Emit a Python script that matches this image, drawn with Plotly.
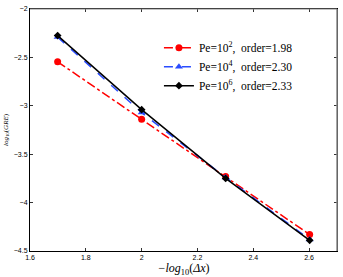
import plotly.graph_objects as go

x_vals = [1.699, 2.0, 2.301, 2.602]
pe2 = [-2.545, -3.14, -3.73, -4.33]
pe4 = [-2.29, -3.07, -3.74, -4.38]
pe6 = [-2.275, -3.04, -3.75, -4.39]
names = ["Pe=10<sup>2</sup>,  order=1.98", "Pe=10<sup>4</sup>,  order=2.30", "Pe=10<sup>6</sup>,  order=2.33"]
x_ticks = [1.6, 1.8, 2.0, 2.2, 2.4, 2.6]
x_labels = ["1.6", "1.8", "2", "2.2", "2.4", "2.6"]
y_ticks = [-2, -2.5, -3, -3.5, -4, -4.5]
y_labels = ["\u22122", "\u22122.5", "\u22123", "\u22123.5", "\u22124", "\u22124.5"]

fig = go.Figure()
fig.add_trace(go.Scatter(x=x_vals, y=pe2, name=names[0], mode="lines+markers",
                         line=dict(color="#ff0000", width=1.5, dash="dashdot"),
                         marker=dict(symbol="circle", size=7, color="#ff0000")))
fig.add_trace(go.Scatter(x=x_vals, y=pe4, name=names[1], mode="lines+markers",
                         line=dict(color="#2a4cff", width=1.5, dash="dash"),
                         marker=dict(symbol="triangle-up", size=7, color="#2a4cff")))
fig.add_trace(go.Scatter(x=x_vals, y=pe6, name=names[2], mode="lines+markers",
                         line=dict(color="#000000", width=1.5),
                         marker=dict(symbol="diamond", size=6, color="#000000")))

axis_common = dict(showgrid=False, zeroline=False, ticks="inside", ticklen=3,
                   tickcolor="#333", showline=True, linecolor="#000", linewidth=1,
                   mirror="allticks", tickfont=dict(family="Liberation Sans, Arial", size=7, color="#000"))
fig.update_xaxes(range=[1.6, 2.7], tickvals=x_ticks, ticktext=x_labels,
                 title=dict(text="<i>\u2212log</i><sub>10</sub>(<i>\u0394x</i>)", standoff=2,
                            font=dict(family="Liberation Serif, Times New Roman", size=12, color="#000")),
                 **axis_common)
fig.update_yaxes(range=[-4.5, -2], tickvals=y_ticks, ticktext=y_labels,
                 title=dict(text="<i>log</i><sub>10</sub>(<i>GRE</i>)", standoff=4,
                            font=dict(family="Liberation Serif, Times New Roman", size=7, color="#000")),
                 **axis_common)

fig.add_shape(type="line", xref="paper", yref="paper", x0=0, x1=1, y0=1, y1=1,
              line=dict(color="#888", width=1))
fig.add_shape(type="line", xref="paper", yref="paper", x0=1, x1=1, y0=0, y1=1,
              line=dict(color="#888", width=1.5))

fig.update_layout(
    width=343, height=277,
    margin=dict(l=28, r=5, t=7, b=26),
    paper_bgcolor="white", plot_bgcolor="white",
    showlegend=True,
    legend=dict(x=0.42, y=0.9, xanchor="left", yanchor="top",
                font=dict(family="Liberation Serif, Times New Roman", size=11.5, color="#000"),
                bgcolor="rgba(255,255,255,0)", borderwidth=0, tracegroupgap=4,
                itemwidth=30),
)

fig.write_html("out.html", config={"displayModeBar": False},
               post_script="document.body.style.margin='0';")
